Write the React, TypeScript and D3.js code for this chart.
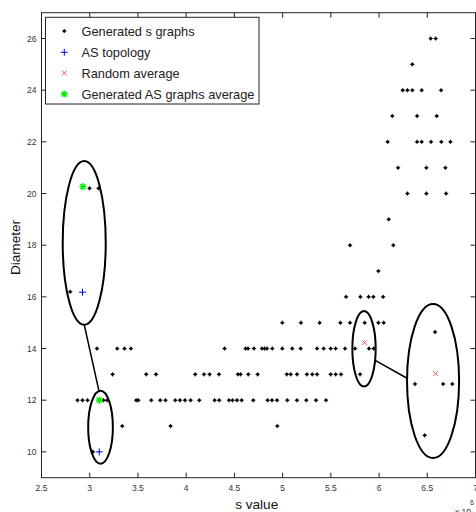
import React from "react";
import * as d3 from "d3";

// ---- data (s value in units of 1e6, diameter) ----
const genS: number[] = [
  6.535, 6.587,
  6.345,
  6.245, 6.294, 6.345, 6.442, 6.643,
  6.138, 6.394, 6.598,
  6.089, 6.394, 6.442, 6.539, 6.646, 6.74,
  6.197, 6.491, 6.688,
  6.294, 6.491, 6.695,
  6.1,
  5.699, 6.148,
  5.993,
  5.658, 5.806, 5.892, 5.941, 6.042,
  2.998, 3.091,
  2.798,
  4.997, 5.19, 5.384, 5.599, 5.699, 5.851, 5.993, 6.048,
  3.075, 3.285, 3.36, 3.427, 4.398, 4.616, 4.641, 4.703, 4.786, 4.813, 4.838, 4.893, 4.997, 5.1, 5.187, 5.357, 5.425, 5.498, 5.55, 5.647, 5.751, 5.896, 5.944,
  3.237, 3.586, 3.687, 4.094, 4.185, 4.243, 4.34, 4.537, 4.564, 4.644, 4.741, 5.043, 5.084, 5.149, 5.252, 5.308, 5.357, 5.498, 5.55, 5.606, 5.803,
  2.873, 2.925, 2.977, 3.143, 3.18, 3.482, 3.503, 3.638, 3.731, 3.786, 3.887, 3.936, 3.988, 4.046, 4.136, 4.295, 4.343, 4.444, 4.481, 4.527, 4.575, 4.696, 4.844, 4.89, 4.942, 5.049, 5.149, 5.246, 5.347, 5.45,
  3.337, 3.838, 4.945,
  3.033,
  6.581, 6.373, 6.664, 6.76, 6.473,
];
const genD: number[] = [
  26, 26,
  25,
  24, 24, 24, 24, 24,
  23, 23, 23,
  22, 22, 22, 22, 22, 22,
  21, 21, 21,
  20, 20, 20,
  19,
  18, 18,
  17,
  16, 16, 16, 16, 16,
  20.2, 20.2,
  16.2,
  15, 15, 15, 15, 15, 15, 15, 15,
  14, 14, 14, 14, 14, 14, 14, 14, 14, 14, 14, 14, 14, 14, 14, 14, 14, 14, 14, 14, 14, 14, 14,
  13, 13, 13, 13, 13, 13, 13, 13, 13, 13, 13, 13, 13, 13, 13, 13, 13, 13, 13, 13, 13,
  12, 12, 12, 12, 12, 12, 12, 12, 12, 12, 12, 12, 12, 12, 12, 12, 12, 12, 12, 12, 12, 12, 12, 12, 12, 12, 12, 12, 12, 12,
  11, 11, 11,
  10,
  14.64, 12.63, 12.63, 12.63, 10.64,
];
const asS: number[] = [2.925, 3.099];
const asD: number[] = [16.18, 10];
const randS: number[] = [5.851, 6.587];
const randD: number[] = [14.23, 13.03];
const avgS: number[] = [2.929, 3.099];
const avgD: number[] = [20.27, 12.0];

const xTicks: number[] = [2.5, 3, 3.5, 4, 4.5, 5, 5.5, 6, 6.5, 7];
const yTicks: number[] = [10, 12, 14, 16, 18, 20, 22, 24, 26];
const legendLabels: string[] = [
  "Generated s graphs",
  "AS topology",
  "Random average",
  "Generated AS graphs average",
];
// annotation ellipses: center s, center d, radius s, radius d
const ellCS: number[] = [2.943, 3.112, 5.844, 6.56];
const ellCD: number[] = [18.09, 10.955, 13.99, 12.74];
const ellRS: number[] = [0.223, 0.128, 0.121, 0.27];
const ellRD: number[] = [3.17, 1.413, 1.46, 2.98];
// connector lines: [s1, d1, s2, d2]
const connS1: number[] = [2.943, 5.965];
const connD1: number[] = [14.92, 13.53];
const connS2: number[] = [3.095, 6.29];
const connD2: number[] = [12.37, 12.85];

const W = 476;
const H = 512;
const L = 41.5, R = 475.5, T = 12.7, B = 477.7;

export default function App() {
  const x = d3.scaleLinear().domain([2.5, 7]).range([L, R]);
  const y = d3.scaleLinear().domain([9, 27]).range([B, T]);
  const axisCol = "#222";
  const font = "'Liberation Sans', Arial, sans-serif";
  const tk = 5;

  const plus = (cx: number, cy: number, s: number, c: string, key: string) => (
    <path key={key} d={`M${cx - s},${cy}H${cx + s}M${cx},${cy - s}V${cy + s}`} stroke={c} strokeWidth={1} fill="none" />
  );
  const cross = (cx: number, cy: number, s: number, c: string, key: string) => (
    <path key={key} d={`M${cx - s},${cy - s}L${cx + s},${cy + s}M${cx - s},${cy + s}L${cx + s},${cy - s}`} stroke={c} strokeWidth={1} fill="none" />
  );
  const star = (cx: number, cy: number, s: number, c: string, key: string) => (
    <g key={key}>
      <path d={`M${cx - s},${cy}H${cx + s}M${cx},${cy - s}V${cy + s}M${cx - s * 0.75},${cy - s * 0.75}L${cx + s * 0.75},${cy + s * 0.75}M${cx - s * 0.75},${cy + s * 0.75}L${cx + s * 0.75},${cy - s * 0.75}`} stroke={c} strokeWidth={1.3} fill="none" />
    </g>
  );
  const dot = (cx: number, cy: number, key: string) => (
    <g key={key}>
      <circle cx={cx} cy={cy} r={1.5} fill="#000" />
      <path d={`M${cx - 2.2},${cy}H${cx + 2.2}M${cx},${cy - 2.2}V${cy + 2.2}`} stroke="#000" strokeWidth={0.8} />
    </g>
  );

  const legendY = [31, 52.3, 73, 94];

  return (
    <svg width={W} height={H} style={{ position: "absolute", left: 0, top: 0, background: "#fff" }} fontFamily={font}>
      <rect x={0} y={0} width={W} height={H} fill="#fff" />
      {/* ticks */}
      {xTicks.map((t) => (
        <g key={"xt" + t}>
          <line x1={x(t)} x2={x(t)} y1={B} y2={B - tk} stroke={axisCol} strokeWidth={1} />
          <line x1={x(t)} x2={x(t)} y1={T} y2={T + tk} stroke={axisCol} strokeWidth={1} />
          <text x={x(t)} y={491} fontSize={8.5} textAnchor="middle" fill="#333">{t}</text>
        </g>
      ))}
      {yTicks.map((t) => (
        <g key={"yt" + t}>
          <line x1={L} x2={L + tk} y1={y(t)} y2={y(t)} stroke={axisCol} strokeWidth={1} />
          <line x1={R} x2={R - tk} y1={y(t)} y2={y(t)} stroke={axisCol} strokeWidth={1} />
          <text x={36.5} y={y(t) + 3} fontSize={8.5} textAnchor="end" fill="#333">{t}</text>
        </g>
      ))}
      <rect x={L} y={T} width={R - L} height={B - T} fill="none" stroke={axisCol} strokeWidth={1} />

      {/* annotations */}
      {ellCS.map((c, i) => (
        <ellipse key={"e" + i} cx={x(c)} cy={y(ellCD[i])} rx={x(c + ellRS[i]) - x(c)} ry={y(ellCD[i] - ellRD[i]) - y(ellCD[i])} fill="none" stroke="#000" strokeWidth={2} />
      ))}
      {connS1.map((s, i) => (
        <line key={"c" + i} x1={x(s)} y1={y(connD1[i])} x2={x(connS2[i])} y2={y(connD2[i])} stroke="#000" strokeWidth={1.5} />
      ))}

      {/* series */}
      {genS.map((s, i) => dot(x(s), y(genD[i]), "g" + i))}
      {asS.map((s, i) => plus(x(s), y(asD[i]), 3.5, "#0000ff", "a" + i))}
      {randS.map((s, i) => cross(x(s), y(randD[i]), 2.5, "#ff5555", "r" + i))}
      {avgS.map((s, i) => star(x(s), y(avgD[i]), 3.5, "#00ee00", "v" + i))}

      {/* legend */}
      <rect x={45.5} y={17.3} width={213.5} height={86.7} fill="#fff" stroke={axisCol} strokeWidth={1} />
      {dot(64.3, legendY[0], "ld")}
      {plus(64.3, legendY[1], 3.5, "#0000ff", "lp")}
      {cross(64.3, legendY[2], 2.5, "#ff5555", "lx")}
      {star(64.3, legendY[3], 3.5, "#00ee00", "ls")}
      {legendLabels.map((l, i) => (
        <text key={"l" + i} x={81.5} y={legendY[i] + 4.5} fontSize={12.8} fill="#222">{l}</text>
      ))}

      {/* axis labels */}
      <text x={256.7} y={509} fontSize={13.6} textAnchor="middle" fill="#111">s value</text>
      <text transform={`translate(20,247.5) rotate(-90)`} fontSize={13.6} textAnchor="middle" fill="#111">Diameter</text>
      <text x={455} y={515} fontSize={8.5} fill="#333">x 10</text>
      <text x={470} y={505} fontSize={7} fill="#333">6</text>
    </svg>
  );
}
